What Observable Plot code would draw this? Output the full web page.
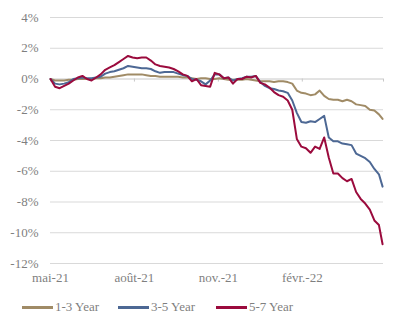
<!DOCTYPE html>
<html>
<head>
<meta charset="utf-8">
<script src="https://cdn.jsdelivr.net/npm/d3@7"></script>
<script src="https://cdn.jsdelivr.net/npm/@observablehq/plot@0.6"></script>
<style>
  html, body { margin: 0; padding: 0; background: #fff; }
  #wrap { position: relative; width: 400px; height: 329px; font-family: "Liberation Serif", serif; }
  #legend { position: absolute; left: 0; top: 298px; width: 400px; height: 20px; font-size: 13px; color: #7f7f7f; }
  .item { position: absolute; top: 0; display: flex; align-items: center; height: 18px; }
  .sw { width: 31px; height: 3px; margin-right: 2px; }
</style>
</head>
<body>
<div id="wrap">
  <div id="chart"></div>
  <div id="legend"></div>
</div>
<script>
const dates = ["2021-05-01","2021-05-06","2021-05-11","2021-05-16","2021-05-21","2021-05-26","2021-05-31","2021-06-05","2021-06-10","2021-06-15",
"2021-06-20","2021-06-25","2021-06-30","2021-07-05","2021-07-10","2021-07-15","2021-07-20","2021-07-25","2021-07-30","2021-08-04",
"2021-08-09","2021-08-14","2021-08-19","2021-08-24","2021-08-29","2021-09-03","2021-09-08","2021-09-13","2021-09-18","2021-09-23",
"2021-09-28","2021-10-03","2021-10-08","2021-10-13","2021-10-18","2021-10-23","2021-10-28","2021-11-02","2021-11-07","2021-11-12",
"2021-11-17","2021-11-22","2021-11-27","2021-12-02","2021-12-07","2021-12-12","2021-12-17","2021-12-22","2021-12-27","2022-01-01",
"2022-01-06","2022-01-11","2022-01-16","2022-01-21","2022-01-26","2022-01-31","2022-02-05","2022-02-10","2022-02-15","2022-02-20",
"2022-02-25","2022-03-02","2022-03-07","2022-03-12","2022-03-17","2022-03-22","2022-03-27","2022-04-01","2022-04-06","2022-04-11",
"2022-04-16","2022-04-21","2022-04-26","2022-04-30"];

const y13 = [0.0,-0.1,-0.1,-0.1,-0.05,-0.05,0.0,0.0,0.0,0.0,
0.05,0.05,0.1,0.1,0.15,0.2,0.25,0.3,0.3,0.3,
0.3,0.25,0.2,0.2,0.15,0.15,0.15,0.15,0.15,0.1,
0.1,0.05,0.0,0.05,0.05,0.0,0.0,0.05,0.0,-0.05,
-0.05,-0.05,-0.05,0.0,-0.05,-0.1,-0.15,-0.15,-0.15,-0.2,
-0.15,-0.15,-0.2,-0.3,-0.75,-0.9,-0.95,-1.05,-1.0,-0.75,
-1.1,-1.3,-1.35,-1.35,-1.45,-1.35,-1.45,-1.65,-1.7,-1.75,
-2.0,-2.05,-2.3,-2.6];

const y35 = [0.0,-0.3,-0.35,-0.3,-0.2,0.0,0.05,0.1,0.05,0.05,
0.1,0.15,0.35,0.45,0.5,0.6,0.7,0.85,0.8,0.75,
0.7,0.7,0.65,0.5,0.4,0.45,0.45,0.45,0.35,0.25,
0.2,0.0,-0.05,-0.15,-0.35,-0.1,0.3,0.3,0.05,0.1,
-0.1,0.0,0.05,0.15,0.15,0.2,-0.2,-0.45,-0.6,-0.65,
-0.75,-0.8,-0.9,-1.4,-2.2,-2.8,-2.85,-2.75,-2.8,-2.6,
-2.4,-3.8,-4.05,-4.05,-4.2,-4.25,-4.3,-4.85,-5.0,-5.15,
-5.4,-5.85,-6.2,-7.0];

const y57 = [0.0,-0.5,-0.6,-0.45,-0.3,-0.1,0.1,0.2,0.0,-0.1,
0.1,0.3,0.6,0.75,0.9,1.1,1.3,1.5,1.4,1.35,
1.4,1.4,1.2,0.95,0.85,0.8,0.75,0.65,0.5,0.3,
0.2,-0.15,0.0,-0.4,-0.45,-0.5,0.4,0.3,0.05,0.1,
-0.3,0.0,0.0,0.15,0.1,0.2,-0.25,-0.35,-0.55,-0.85,
-1.05,-1.15,-1.4,-2.0,-3.9,-4.4,-4.5,-4.8,-4.4,-4.55,
-3.8,-5.1,-6.15,-6.15,-6.45,-6.65,-6.5,-7.35,-7.8,-8.1,
-8.5,-9.2,-9.5,-10.75];

const seriesNames = ["1-3 Year", "3-5 Year", "5-7 Year"];
const seriesColors = ["#a08b66", "#4d6894", "#9b0b3d"];
const seriesValues = [y13, y35, y57];

const yTicks = [-12, -10, -8, -6, -4, -2, 0, 2, 4];
const xTickDates = ["2021-05-01", "2021-08-01", "2021-11-01", "2022-02-01"];
const xTickLabels = ["mai-21", "août-21", "nov.-21", "févr.-22"];
const xTickMarks = ["2021-05-01", "2021-08-01", "2021-11-01", "2022-02-01", "2022-05-01"];

const rows = seriesNames.flatMap((name, s) =>
  dates.map((d, i) => ({ date: new Date(d), value: seriesValues[s][i], name })));

const labelMap = new Map(xTickDates.map((d, i) => [+new Date(d), xTickLabels[i]]));

const chart = Plot.plot({
  width: 400,
  height: 290,
  marginLeft: 50,
  marginRight: 17,
  marginTop: 17,
  marginBottom: 27,
  style: { fontFamily: "Liberation Serif, serif", fontSize: "13px", color: "#7f7f7f", background: "white" },
  x: {
    type: "utc",
    domain: [new Date("2021-05-01"), new Date("2022-05-01")],
    ticks: xTickDates.map(d => new Date(d)),
    tickFormat: d => labelMap.get(+d),
    tickSize: 0,
    tickPadding: 9,
    label: null
  },
  y: {
    domain: [-12, 4],
    ticks: yTicks,
    tickFormat: d => `${d}%`,
    tickSize: 0,
    tickPadding: 12,
    label: null
  },
  color: { domain: seriesNames, range: seriesColors },
  marks: [
    Plot.ruleY(yTicks.filter(d => d !== 0), { stroke: "#d9d9d9", strokeWidth: 1 }),
    Plot.ruleY([0], { stroke: "#c8c8c8", strokeWidth: 1 }),
    Plot.ruleX(xTickMarks.map(d => new Date(d)), { x: d => d, y1: 0, y2: -0.2, stroke: "#c8c8c8" }),
    Plot.line(rows, { x: "date", y: "value", z: "name", stroke: "name", strokeWidth: 2 })
  ]
});
document.getElementById("chart").appendChild(chart);

const legend = document.getElementById("legend");
const legendLeft = [22, 118, 216];
seriesNames.forEach((name, i) => {
  const item = document.createElement("div");
  item.className = "item";
  item.style.left = legendLeft[i] + "px";
  const sw = document.createElement("span");
  sw.className = "sw";
  sw.style.background = seriesColors[i];
  const t = document.createElement("span");
  t.textContent = name;
  item.appendChild(sw);
  item.appendChild(t);
  legend.appendChild(item);
});
</script>
</body>
</html>
